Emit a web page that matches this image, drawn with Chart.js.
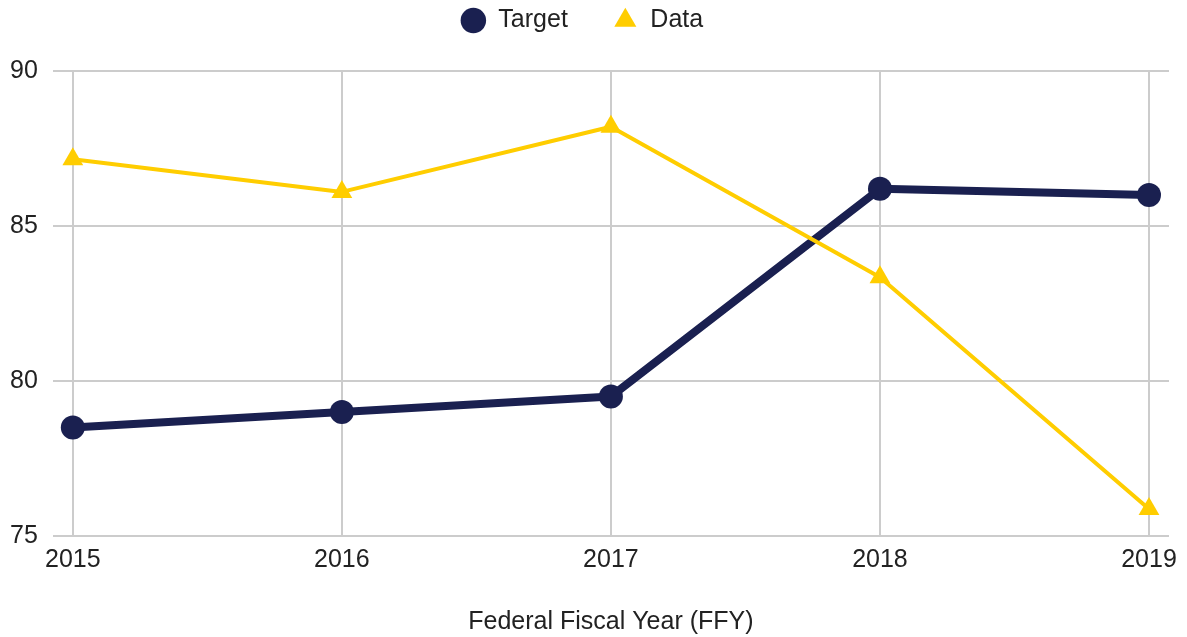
<!DOCTYPE html>
<html>
<head>
<meta charset="utf-8">
<script src="https://cdn.jsdelivr.net/npm/chart.js@4.4.1/dist/chart.umd.min.js"></script>
<style>
  html, body { margin: 0; padding: 0; background: #ffffff; }
  #wrap { width: 1187px; height: 637px; }
</style>
</head>
<body>
<div id="wrap"><canvas id="c" width="1187" height="637"></canvas></div>
<script>
// ---- data ----
const years = ['2015', '2016', '2017', '2018', '2019'];
const targetValues = [78.5, 79.0, 79.5, 86.2, 86.0];
const dataValues = [87.15, 86.1, 88.2, 83.35, 75.87];
const yTicks = [75, 80, 85, 90];
const seriesNames = ['Target', 'Data'];
const xTitle = 'Federal Fiscal Year (FFY)';

const navy = '#1a2050';
const gold = '#ffcd00';
const FS = 25;

Chart.defaults.font.family = '"Liberation Sans", Arial, sans-serif';
Chart.defaults.font.size = FS;
Chart.defaults.color = '#222222';

const yearNums = years.map(Number);
const toPoints = vals => vals.map((v, i) => ({ x: yearNums[i], y: v }));
const edge = 20 / 269;

const legendSpacer = {
  id: 'legendSpacer',
  beforeInit(chart) {
    const lg = chart.legend;
    const origFit = lg.fit;
    lg.fit = function () {
      origFit.call(this);
      this.height = 108;
    };
  }
};

new Chart(document.getElementById('c'), {
  type: 'line',
  data: {
    datasets: [
      {
        label: seriesNames[0],
        data: toPoints(targetValues),
        borderColor: navy,
        backgroundColor: navy,
        pointBackgroundColor: navy,
        pointBorderWidth: 0,
        pointRadius: 12,
        pointHoverRadius: 12,
        borderWidth: 8,
        borderJoinStyle: 'round',
        borderCapStyle: 'round',
        order: 1
      },
      {
        label: seriesNames[1],
        data: toPoints(dataValues),
        borderColor: gold,
        backgroundColor: gold,
        pointBackgroundColor: gold,
        pointBorderWidth: 0,
        pointStyle: 'triangle',
        pointRadius: 12,
        pointHoverRadius: 12,
        borderWidth: 4,
        borderJoinStyle: 'round',
        borderCapStyle: 'round',
        order: 0
      }
    ]
  },
  options: {
    responsive: false,
    animation: false,
    layout: { autoPadding: false, padding: { top: -37, left: -5, right: 18, bottom: 0 } },
    plugins: {
      legend: {
        position: 'top',
        align: 'center',
        labels: {
          usePointStyle: true,
          boxWidth: 25,
          boxHeight: 18,
          padding: 45,
          color: '#222222',
          font: { size: FS },
          sort: (a, b) => a.datasetIndex - b.datasetIndex
        }
      },
      tooltip: { enabled: false }
    },
    scales: {
      x: {
        type: 'linear',
        min: yearNums[0] - edge,
        max: yearNums[yearNums.length - 1] + edge,
        afterBuildTicks: axis => { axis.ticks = yearNums.map(v => ({ value: v })); },
        ticks: {
          callback: v => String(v),
          padding: 9,
          maxRotation: 0,
          autoSkip: false,
          color: '#222222',
          font: { size: FS }
        },
        grid: { color: '#cccccc', lineWidth: 2, drawTicks: false },
        border: { display: false },
        title: {
          display: true,
          text: xTitle,
          color: '#222222',
          font: { size: FS },
          padding: { top: 23, bottom: 0 }
        }
      },
      y: {
        min: yTicks[0],
        max: yTicks[yTicks.length - 1],
        afterBuildTicks: axis => { axis.ticks = yTicks.map(v => ({ value: v })); },
        ticks: {
          padding: 15,
          color: '#222222',
          font: { size: FS }
        },
        grid: { color: '#cccccc', lineWidth: 2, drawTicks: false },
        border: { display: false }
      }
    }
  },
  plugins: [legendSpacer]
});
</script>
</body>
</html>
